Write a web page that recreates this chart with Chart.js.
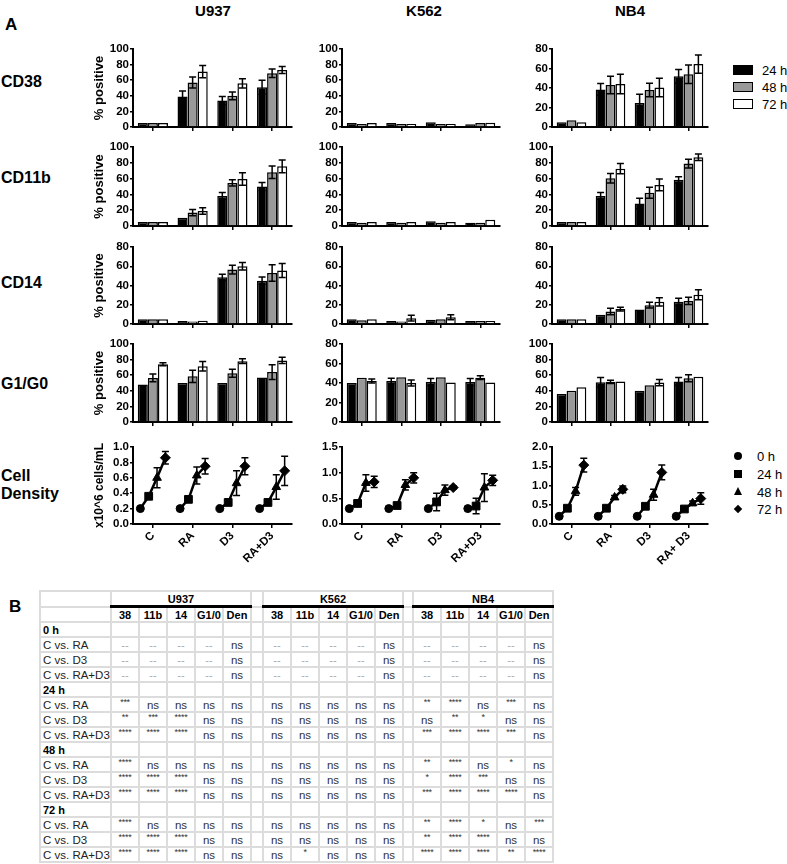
<!DOCTYPE html>
<html>
<head>
<meta charset="utf-8">
<script src="https://cdn.jsdelivr.net/npm/chart.js@4.4.1/dist/chart.umd.min.js"></script>
<style>
  body { margin: 0; background: #fff; }
  #fig { position: relative; width: 787px; height: 864px; font-family: "Liberation Sans", Arial, sans-serif; color: #000; overflow: hidden; }
  .lbl { position: absolute; font-weight: bold; white-space: nowrap; }
  .big { font-size: 17px; line-height: 17px; }
  .row { font-size: 16px; line-height: 18px; }
  .colt { font-size: 15px; line-height: 15px; width: 100px; text-align: center; }
  .leg { position: absolute; font-size: 13px; line-height: 13px; white-space: nowrap; }
  .box { position: absolute; width: 18px; height: 8px; border: 1.5px solid #000; }
  .mk { position: absolute; background: #000; }
  #sig { position: absolute; left: 39px; top: 590px; border-collapse: collapse; table-layout: fixed; width: 514px; }
  #sig td { border: 2px solid #dcdcdc; padding: 0; height: 13px; font-size: 11px; line-height: 12px; text-align: center; white-space: nowrap; overflow: hidden; color: #222; }
  #sig td.rl { text-align: left; padding-left: 2px; font-size: 11.5px; }
  #sig td.time { text-align: left; padding-left: 2px; font-weight: bold; color: #000; }
  #sig td.line { font-weight: bold; color: #000; border-bottom: 3px solid #000; }
  #sig td.colh { font-weight: bold; color: #000; }
  #sig td.ns { font-size: 11.5px; color: #333; }
  #sig td.dash { color: #aaa; }
  #sig td.star { vertical-align: top; font-size: 9px; line-height: 9px; color: #333; letter-spacing: -0.3px; }
</style>
</head>
<body>
<div id="fig">
  <div class="lbl big" style="left:5px;top:16px">A</div>
  <div class="lbl big" style="left:9px;top:598px">B</div>
  <div class="lbl colt" style="left:163px;top:3px">U937</div>
  <div class="lbl colt" style="left:374px;top:3px">K562</div>
  <div class="lbl colt" style="left:580px;top:3px">NB4</div>
  <div class="lbl row" style="left:1px;top:73px">CD38</div>
  <div class="lbl row" style="left:1px;top:169px">CD11b</div>
  <div class="lbl row" style="left:1px;top:274px">CD14</div>
  <div class="lbl row" style="left:1px;top:375px">G1/G0</div>
  <div class="lbl row" style="left:1px;top:467px">Cell<br>Density</div>

  <div class="box" style="left:733px;top:65px;background:#000"></div>
  <div class="box" style="left:733px;top:82px;background:#999"></div>
  <div class="box" style="left:733px;top:99px;background:#fff"></div>
  <div class="leg" style="left:762px;top:64px">24 h</div>
  <div class="leg" style="left:762px;top:81px">48 h</div>
  <div class="leg" style="left:762px;top:98px">72 h</div>

  <div class="mk" style="left:734px;top:452px;width:8px;height:8px;border-radius:50%"></div>
  <div class="mk" style="left:734px;top:470px;width:8px;height:8px"></div>
  <div class="mk" style="left:734px;top:487px;width:0;height:0;background:none;border-left:4.5px solid transparent;border-right:4.5px solid transparent;border-bottom:8px solid #000"></div>
  <div class="mk" style="left:735px;top:506px;width:6px;height:6px;transform:rotate(45deg)"></div>
  <div class="leg" style="left:757px;top:450px">0 h</div>
  <div class="leg" style="left:757px;top:468px">24 h</div>
  <div class="leg" style="left:757px;top:486px">48 h</div>
  <div class="leg" style="left:757px;top:503px">72 h</div>
</div>

<script>
// categories and series
const categories = ['C', 'RA', 'D3', 'RA+D3'];
const categoriesNB4 = ['C', 'RA', 'D3', 'RA+ D3'];
const barTimes = ['24 h', '48 h', '72 h'];
const densityTimes = ['0 h', '24 h', '48 h', '72 h'];

// % positive, rows = 24h / 48h / 72h, cols = C, RA, D3, RA+D3
const cd38U937 = [[5, 39, 34, 51], [5, 57, 40, 69], [5, 71, 56, 73]];
const cd38U937Sd = [[0.5, 7, 5, 9], [0.5, 7, 5, 5.5], [0.5, 8, 6, 4.5]];
const cd38K562 = [[5, 5, 6, 3.5], [4, 4, 4, 5], [5, 4, 4, 5.5]];
const cd38K562Sd = [[0.5, 0.5, 1, 0.5], [0.5, 0.5, 0.5, 1], [0.5, 0.5, 0.5, 1.5]];
const cd38NB4 = [[5, 38.5, 24.5, 52], [7, 43, 38, 54], [5, 44, 40.5, 64.5]];
const cd38NB4Sd = [[0.5, 6, 9, 7], [1.3, 9, 7, 9.5], [0.5, 10, 9.5, 9.3]];

const cd11bU937 = [[5, 10.5, 38, 50], [5, 17, 54.5, 68], [5, 19, 59.5, 75.5]];
const cd11bU937Sd = [[0.5, 1, 4.5, 5], [0.5, 4, 4, 8], [0.5, 4, 8, 8]];
const cd11bK562 = [[5, 5, 6, 4], [4, 4, 4, 4], [5, 5, 5, 8]];
const cd11bK562Sd = [[0.5, 0.8, 0.8, 0.5], [0.5, 0.5, 0.5, 0.5], [0.5, 0.5, 0.5, 1.5]];
const cd11bNB4 = [[5, 38, 28.5, 58.5], [5, 60.5, 42, 79], [5, 72.5, 52, 87]];
const cd11bNB4Sd = [[0.5, 4.5, 6.5, 4], [0.5, 6, 7, 5.5], [0.5, 6.5, 7.5, 4]];

const cd14U937 = [[5, 3, 48.5, 45], [5, 2.5, 56.5, 53], [5, 3.5, 60, 55.5]];
const cd14U937Sd = [[0.5, 1, 3.2, 3.8], [0.5, 1, 4.6, 8.6], [0.5, 1, 4, 7.3]];
const cd14K562 = [[5, 3, 4.5, 3], [4, 2.5, 5, 3], [5, 6, 7, 3]];
const cd14K562Sd = [[0.5, 0.5, 0.5, 0.5], [0.5, 0.5, 1, 0.5], [0.5, 3, 2.5, 0.5]];
const cd14NB4 = [[5, 9.5, 15, 23], [5, 13, 19.5, 24], [5, 15.5, 23, 30.5]];
const cd14NB4Sd = [[0.5, 1, 1, 3.8], [0.5, 3.3, 3, 3.8], [0.5, 2, 4.2, 5.2]];

const g1U937 = [[48, 50, 50, 57], [56.5, 58.5, 62.5, 64], [74, 71.5, 78, 79]];
const g1U937Sd = [[1, 1, 1.5, 0], [5, 8, 5, 9.5], [2, 6, 3, 4]];
const g1K562 = [[40, 42, 41, 41], [45.5, 46, 46, 45.5], [42, 40, 40.5, 40.5]];
const g1K562Sd = [[1, 3, 3.5, 3.5], [1.5, 1.5, 1.5, 2], [2, 3, 1, 0.5]];
const g1NB4 = [[36, 51, 40, 52], [40, 51.5, 47, 56], [44.5, 52, 50.5, 58]];
const g1NB4Sd = [[1, 6, 0.5, 5], [1.5, 2, 1.5, 4.5], [1.5, 1.5, 4, 1.5]];

// cell density x10^6/mL, rows = C, RA, D3, RA+D3, cols = 0h..72h
const densU937 = [[0.2, 0.36, 0.6, 0.86], [0.2, 0.32, 0.63, 0.75], [0.2, 0.28, 0.53, 0.75], [0.2, 0.28, 0.48, 0.69]];
const densU937Sd = [[0, 0.03, 0.13, 0.08], [0, 0.02, 0.11, 0.1], [0, 0.02, 0.16, 0.11], [0, 0.02, 0.16, 0.19]];
const densK562 = [[0.3, 0.4, 0.8, 0.82], [0.3, 0.36, 0.76, 0.9], [0.3, 0.43, 0.66, 0.71], [0.3, 0.35, 0.71, 0.85]];
const densK562Sd = [[0, 0.03, 0.16, 0.11], [0, 0.03, 0.1, 0.1], [0, 0.17, 0.1, 0.03], [0, 0.15, 0.27, 0.1]];
const densNB4 = [[0.2, 0.41, 0.85, 1.53], [0.2, 0.41, 0.69, 0.9], [0.2, 0.46, 0.76, 1.34], [0.2, 0.39, 0.54, 0.66]];
const densNB4Sd = [[0, 0.03, 0.1, 0.18], [0, 0.03, 0.05, 0.09], [0, 0.03, 0.14, 0.19], [0, 0.03, 0.06, 0.15]];

// significance table (U937 | K562 | NB4, each 38, 11b, 14, G1/0, Den)
const cellLines = ['U937', 'K562', 'NB4'];
const sigCols = ['38', '11b', '14', 'G1/0', 'Den'];
const sigTimes = ['0 h', '24 h', '48 h', '72 h'];
const sigRowLabels = ['C vs. RA', 'C vs. D3', 'C vs. RA+D3'];
const sig0h = [
  '-- -- -- -- ns -- -- -- -- ns -- -- -- -- ns',
  '-- -- -- -- ns -- -- -- -- ns -- -- -- -- ns',
  '-- -- -- -- ns -- -- -- -- ns -- -- -- -- ns'
];
const sig24h = [
  '*** ns ns ns ns ns ns ns ns ns ** **** ns *** ns',
  '** *** **** ns ns ns ns ns ns ns ns ** * ns ns',
  '**** **** **** ns ns ns ns ns ns ns *** **** **** *** ns'
];
const sig48h = [
  '**** ns ns ns ns ns ns ns ns ns ** **** ns * ns',
  '**** **** **** ns ns ns ns ns ns ns * **** *** ns ns',
  '**** **** **** ns ns ns ns ns ns ns *** **** **** **** ns'
];
const sig72h = [
  '**** ns ns ns ns ns ns ns ns ns ** **** * ns ***',
  '**** **** **** ns ns ns ns ns ns ns ** **** **** ns ns',
  '**** **** **** ns ns ns * ns ns ns **** **** **** ** ****'
];

// layout of the panels
const AXIS_X = [133, 342, 552];
const PLOT_R = [292, 500, 708];
const PLOT_T = [49, 147, 247, 344, 447];
const PLOT_B = [127, 226, 324, 422, 524];
const Y_W = 41, PAD_T = 8, PAD_R = 6;
const barFills = ['#000000', '#999999', '#ffffff'];
const markerStyles = ['circle', 'rect', 'triangle', 'rectRot'];
const markerSizes = [4, 5.5, 5, 5];

Chart.defaults.font.family = '"Liberation Sans", Arial, sans-serif';
Chart.defaults.color = '#000';

// error bars (mean +/- sd) drawn over the marks
const errorBars = {
  id: 'errorBars',
  afterDatasetsDraw(chart) {
    const ctx = chart.ctx;
    const ys = chart.scales.y;
    chart.data.datasets.forEach((ds, i) => {
      const meta = chart.getDatasetMeta(i);
      meta.data.forEach((el, j) => {
        const d = ds.data[j];
        const v = typeof d === 'object' ? d.y : d;
        const e = ds.errors[j];
        const top = ys.getPixelForValue(v + e);
        const bot = ys.getPixelForValue(v - e);
        if (bot - top < 3) return;
        ctx.save();
        ctx.strokeStyle = '#000';
        ctx.lineWidth = 1.5;
        ctx.beginPath();
        ctx.moveTo(el.x, top); ctx.lineTo(el.x, bot);
        ctx.moveTo(el.x - 3.5, top); ctx.lineTo(el.x + 3.5, top);
        ctx.moveTo(el.x - 3.5, bot); ctx.lineTo(el.x + 3.5, bot);
        ctx.stroke();
        ctx.restore();
      });
    });
  }
};

function makeCanvas(col, row, xh) {
  const c = document.createElement('canvas');
  const w = PLOT_R[col] - AXIS_X[col] + Y_W + PAD_R;
  const h = PLOT_B[row] - PLOT_T[row] + PAD_T + xh;
  c.width = w; c.height = h;
  c.style.cssText = 'position:absolute;left:' + (AXIS_X[col] - Y_W) + 'px;top:' + (PLOT_T[row] - PAD_T) + 'px;width:' + w + 'px;height:' + h + 'px';
  document.getElementById('fig').appendChild(c);
  return c;
}

function yScale(max, step, title, titleSize, fmt) {
  return {
    min: 0, max: max,
    ticks: { stepSize: step, autoSkip: false, font: { size: 11.5, weight: 'bold' }, padding: 1, color: '#000', callback: fmt || (v => v) },
    grid: { drawOnChartArea: false, tickLength: 3, color: '#000', lineWidth: 1.5 },
    border: { color: '#000', width: 2 },
    title: { display: !!title, text: title || '', color: '#000', font: { size: titleSize, weight: 'bold' }, padding: { top: 0, bottom: 0 } },
    afterFit: s => { s.width = Y_W; }
  };
}

function barPanel(col, row, means, sds, yMax, title) {
  const c = makeCanvas(col, row, 8);
  new Chart(c, {
    type: 'bar',
    data: {
      labels: categories,
      datasets: barTimes.map((t, k) => ({
        label: t, data: means[k], errors: sds[k],
        backgroundColor: barFills[k], borderColor: '#000', borderWidth: 1.5,
        categoryPercentage: 0.76, barPercentage: 1
      }))
    },
    options: {
      responsive: false, animation: false,
      layout: { padding: { top: PAD_T, right: PAD_R, left: 0, bottom: 0 } },
      plugins: { legend: { display: false }, tooltip: { enabled: false } },
      scales: {
        x: {
          grid: { drawOnChartArea: false, offset: false, tickLength: 4, color: '#000', lineWidth: 1.5 },
          border: { color: '#000', width: 2 },
          ticks: { display: false },
          afterFit: s => { s.height = 8; }
        },
        y: yScale(yMax, 20, title, 13)
      }
    },
    plugins: [errorBars]
  });
}

function densityPanel(col, means, sds, yMax, step, labels, title) {
  const c = makeCanvas(col, 4, 50);
  new Chart(c, {
    type: 'line',
    data: {
      datasets: categories.map((cat, i) => ({
        label: cat,
        data: means[i].map((v, t) => ({ x: i + (t - 1.5) * 0.21, y: v })),
        errors: sds[i],
        borderColor: '#000', borderWidth: 2.5, tension: 0,
        pointStyle: markerStyles, pointRadius: markerSizes,
        pointBackgroundColor: '#000', pointBorderColor: '#000', pointBorderWidth: 1
      }))
    },
    options: {
      responsive: false, animation: false,
      layout: { padding: { top: PAD_T, right: PAD_R, left: 0, bottom: 0 } },
      plugins: { legend: { display: false }, tooltip: { enabled: false } },
      scales: {
        x: {
          type: 'linear', min: -0.5, max: 3.5,
          afterBuildTicks: s => { s.ticks = labels.map((l, i) => ({ value: i })); },
          ticks: { callback: v => labels[v], minRotation: 45, maxRotation: 45, autoSkip: false, padding: 1, font: { size: 11.5, weight: 'bold' }, color: '#000' },
          grid: { drawOnChartArea: false, tickLength: 4, color: '#000', lineWidth: 1.5 },
          border: { color: '#000', width: 2 },
          afterFit: s => { s.height = 50; }
        },
        y: yScale(yMax, step, title, 12, v => v.toFixed(1))
      }
    },
    plugins: [errorBars]
  });
}

barPanel(0, 0, cd38U937, cd38U937Sd, 100, '% positive');
barPanel(1, 0, cd38K562, cd38K562Sd, 100);
barPanel(2, 0, cd38NB4, cd38NB4Sd, 80);
barPanel(0, 1, cd11bU937, cd11bU937Sd, 100, '% positive');
barPanel(1, 1, cd11bK562, cd11bK562Sd, 100);
barPanel(2, 1, cd11bNB4, cd11bNB4Sd, 100);
barPanel(0, 2, cd14U937, cd14U937Sd, 80, '% positive');
barPanel(1, 2, cd14K562, cd14K562Sd, 80);
barPanel(2, 2, cd14NB4, cd14NB4Sd, 80);
barPanel(0, 3, g1U937, g1U937Sd, 100, '% positive');
barPanel(1, 3, g1K562, g1K562Sd, 80);
barPanel(2, 3, g1NB4, g1NB4Sd, 100);
densityPanel(0, densU937, densU937Sd, 1.0, 0.2, categories, 'x10^6 cells/mL');
densityPanel(1, densK562, densK562Sd, 1.5, 0.5, categories);
densityPanel(2, densNB4, densNB4Sd, 2.0, 0.5, categoriesNB4);

// table B
function sigCell(s) {
  if (s === 'ns') return '<td class="ns">ns</td>';
  if (s === '--') return '<td class="dash">--</td>';
  return '<td class="star">' + s + '</td>';
}
const gap = i => (i ? '<td></td>' : '');
const sigByTime = [sig0h, sig24h, sig48h, sig72h];
let html = '<table id="sig"><colgroup><col style="width:71px">';
cellLines.forEach((l, i) => {
  if (i) html += '<col style="width:' + (i === 1 ? 12 : 10) + 'px">';
  html += '<col style="width:28px">'.repeat(5);
});
html += '</colgroup>';
html += '<tr><td></td>' + cellLines.map((l, i) => gap(i) + '<td colspan="5" class="line">' + l + '</td>').join('') + '</tr>';
html += '<tr><td></td>' + cellLines.map((l, i) => gap(i) + sigCols.map(c => '<td class="colh">' + c + '</td>').join('')).join('') + '</tr>';
sigTimes.forEach((t, ti) => {
  html += '<tr><td class="time">' + t + '</td>' + cellLines.map((l, i) => gap(i) + '<td></td>'.repeat(5)).join('') + '</tr>';
  sigByTime[ti].forEach((rowStr, ri) => {
    const vals = rowStr.split(' ');
    html += '<tr><td class="rl">' + sigRowLabels[ri] + '</td>' +
      cellLines.map((l, i) => gap(i) + vals.slice(i * 5, i * 5 + 5).map(sigCell).join('')).join('') + '</tr>';
  });
});
html += '</table>';
document.getElementById('fig').insertAdjacentHTML('beforeend', html);
</script>
</body>
</html>
